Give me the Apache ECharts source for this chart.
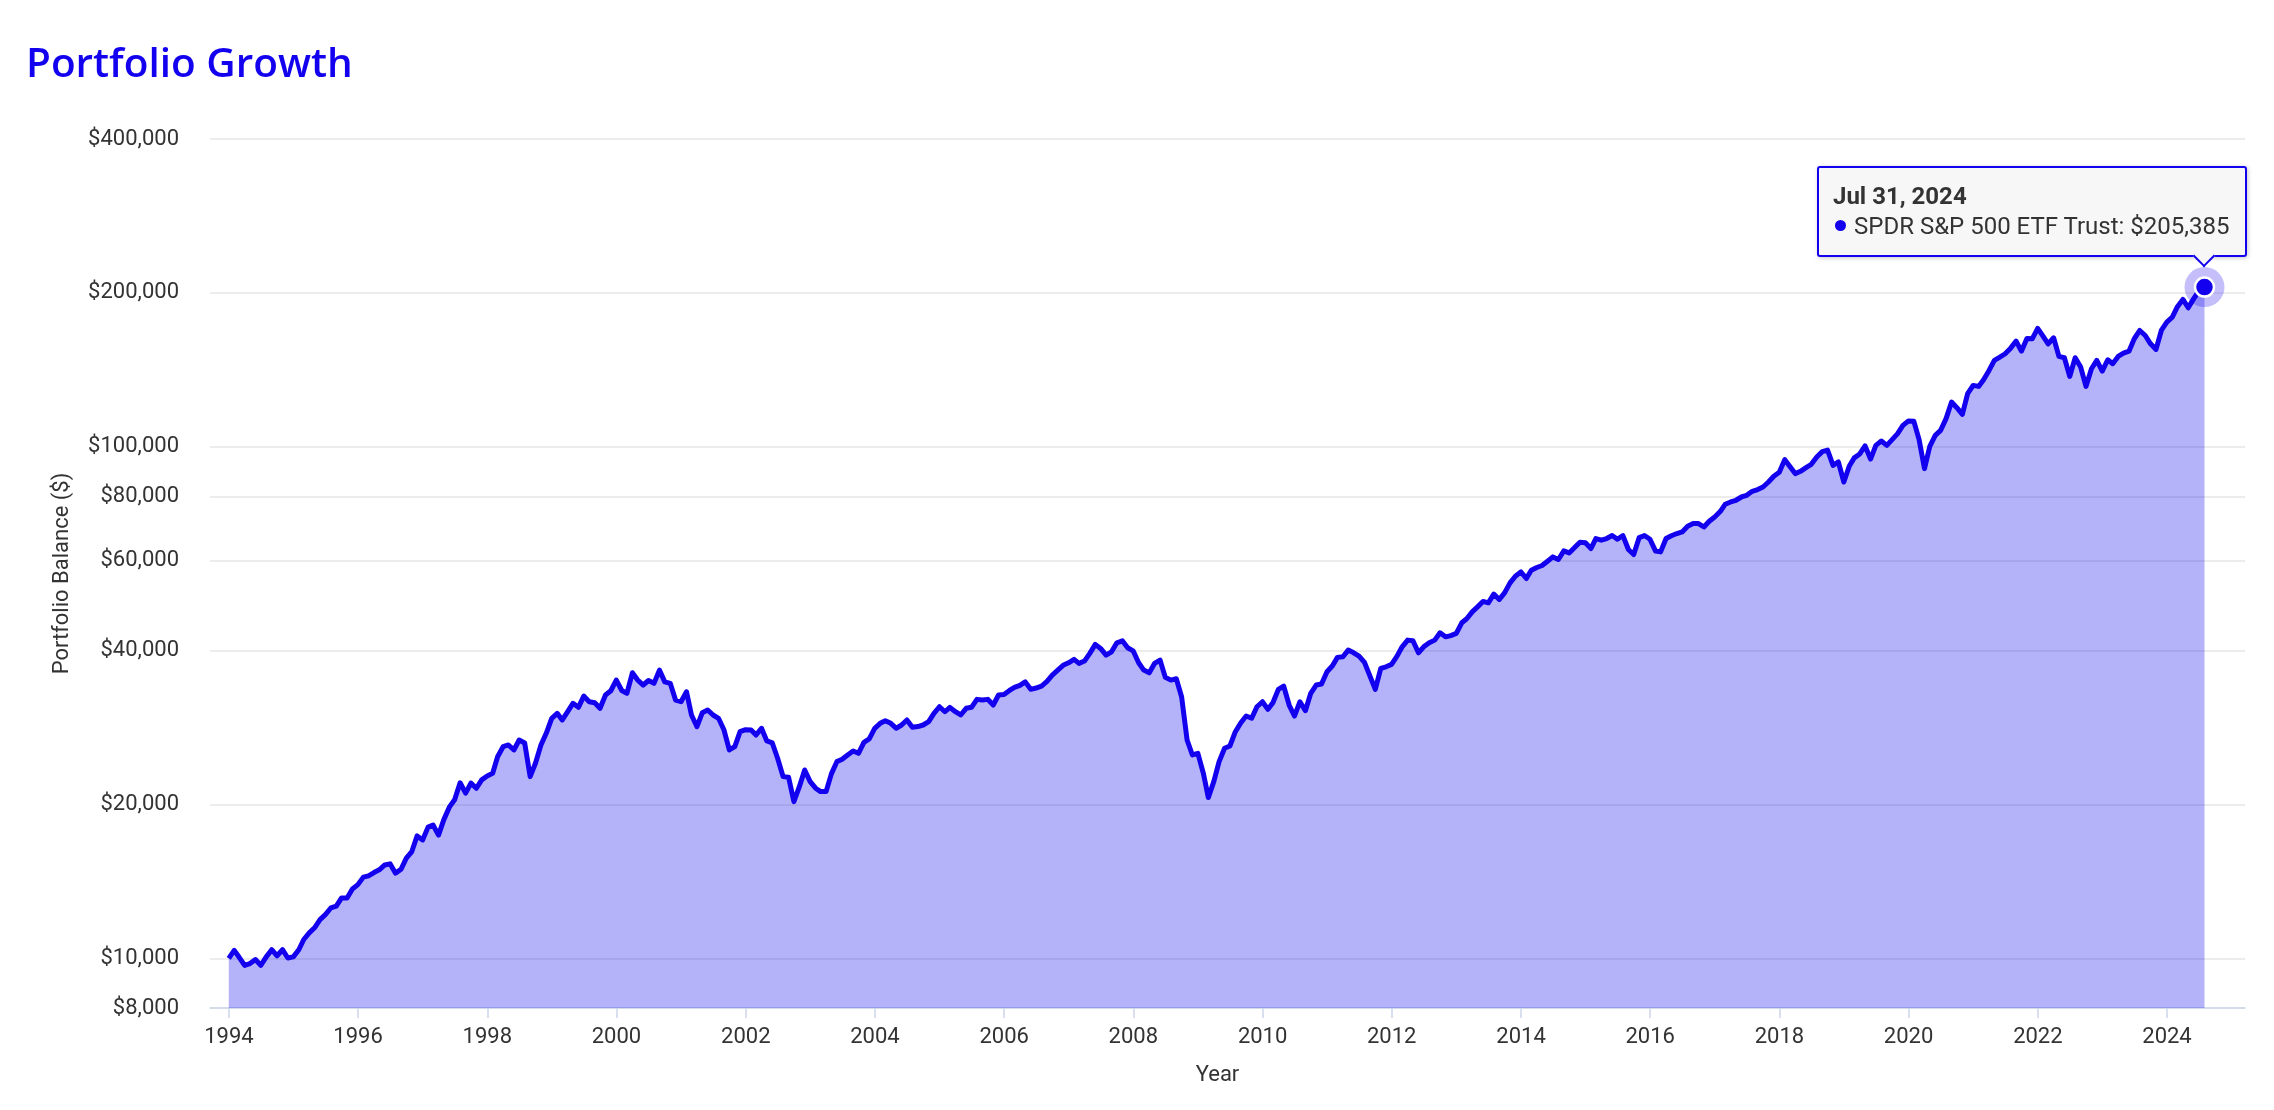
<!DOCTYPE html>
<html>
<head>
<meta charset="utf-8">
<script src="https://cdn.jsdelivr.net/npm/echarts@6/dist/echarts.min.js"></script>
<style>
html,body{margin:0;padding:0;background:#ffffff;overflow:hidden}
#chart{width:2274px;height:1110px}
</style>
</head>
<body>
<div id="chart"></div>
<script>
// ---------------- DATA (month-end portfolio balance, $) ----------------
const seriesName = 'SPDR S&P 500 ETF Trust';
const startValue = 10000; // Dec 31, 1993
const v1994 = [10370, 10050, 9690, 9770, 9950, 9690, 10070, 10400, 10120, 10400, 10020, 10070];
const v1995 = [10400, 10890, 11220, 11480, 11910, 12180, 12550, 12650, 13130, 13130, 13670, 13940];
const v1996 = [14420, 14500, 14720, 14900, 15230, 15310, 14680, 14940, 15710, 16180, 17360, 17050];
const v1997 = [18060, 18230, 17420, 18680, 19760, 20420, 22050, 21040, 22020, 21510, 22340, 22740];
const v1998 = [23010, 24800, 25940, 26140, 25560, 26730, 26380, 22670, 24080, 26140, 27550, 29480];
const v1999 = [30140, 29250, 30360, 31530, 30970, 32580, 31760, 31620, 30830, 32730, 33370, 35010];
const v2000 = [33410, 32980, 36180, 35010, 34240, 34940, 34500, 36620, 34730, 34500, 32000, 31760];
const v2001 = [33220, 29920, 28380, 30220, 30600, 29920, 29480, 27960, 25560, 25940, 27750, 28000];
const v2002 = [27960, 27340, 28180, 26620, 26380, 24620, 22670, 22600, 20260, 21670, 23360, 22170];
const v2003 = [21520, 21190, 21190, 22950, 24250, 24510, 24990, 25440, 25180, 26460, 26860, 28180];
const v2004 = [28820, 29160, 28820, 28180, 28600, 29250, 28310, 28400, 28600, 29030, 30140, 31050];
const v2005 = [30360, 30970, 30360, 29920, 30830, 30970, 32100, 32000, 32100, 31290, 32730, 32800];
const v2006 = [33410, 33880, 34190, 34730, 33580, 33780, 34080, 34810, 35810, 36620, 37410, 37850];
const v2007 = [38430, 37740, 38140, 39480, 41110, 40380, 39180, 39760, 41410, 41780, 40490, 39940];
const v2008 = [37850, 36620, 36180, 37740, 38310, 35440, 35010, 35220, 32480, 26730, 24990, 25180];
const v2009 = [23010, 20630, 22170, 24250, 25750, 26020, 27750, 28900, 29780, 29480, 31050, 31760];
const v2010 = [30690, 31620, 33580, 34080, 31290, 29780, 31760, 30500, 32980, 34240, 34390, 36350];
const v2011 = [37340, 38780, 38880, 40070, 39590, 38990, 37910, 35650, 33580, 36900, 37170, 37570];
const v2012 = [38990, 40670, 41910, 41780, 39590, 40670, 41410, 41910, 43310, 42540, 42780, 43190];
const v2013 = [45310, 46130, 47600, 48680, 49880, 49570, 51550, 50330, 51850, 54230, 55890, 56980];
const v2014 = [55310, 57420, 58120, 58640, 59790, 60960, 60250, 62620, 62060, 63590, 65120, 64940];
const v2015 = [63300, 66210, 65710, 66210, 67110, 65990, 67110, 63020, 61610, 66510, 67110, 66000];
const v2016 = [62620, 62340, 66210, 67050, 67720, 68210, 69980, 70830, 70830, 69740, 71570, 72970];
const v2017 = [74760, 77250, 78060, 78660, 79830, 80450, 81910, 82530, 83500, 85400, 87620, 89210];
const v2018 = [94450, 91640, 88690, 89610, 91110, 92480, 95570, 97920, 98620, 92060, 93460, 85400];
const v2019 = [91800, 95200, 96900, 100500, 94700, 100720, 102690, 100720, 103340, 106170, 110200, 112350];
const v2020 = [112210, 103490, 90700, 100300, 105370, 107760, 113580, 122380, 119330, 115800, 127090, 131930];
const v2021 = [131340, 135350, 141130, 147620, 149820, 152130, 156010, 161000, 153920, 163000, 162700, 170500];
const v2022 = [164500, 159000, 163460, 150300, 149400, 137360, 149400, 143250, 131340, 142200, 147620, 140680];
const v2023 = [148080, 145450, 150300, 152540, 153920, 162750, 168930, 165170, 159100, 155100, 168930, 175350];
const v2024 = [179340, 188000, 194300, 187100, 195000, 202000, 205385];

const yTickValues = [8000, 10000, 20000, 40000, 60000, 80000, 100000, 200000, 400000];
const xTickYears = [1994, 1996, 1998, 2000, 2002, 2004, 2006, 2008, 2010, 2012, 2014, 2016, 2018, 2020, 2022, 2024];

// ---------------- BUILD ----------------
const values = [startValue].concat(v1994, v1995, v1996, v1997, v1998, v1999, v2000, v2001,
  v2002, v2003, v2004, v2005, v2006, v2007, v2008, v2009, v2010, v2011, v2012, v2013,
  v2014, v2015, v2016, v2017, v2018, v2019, v2020, v2021, v2022, v2023, v2024);
// month-end dates starting Dec 31, 1993
const points = values.map((v, i) => [Date.UTC(1994, i, 0), v]);
const lastPoint = points[points.length - 1];

const BLUE = '#1200ee';
const MONTHS = ['Jan','Feb','Mar','Apr','May','Jun','Jul','Aug','Sep','Oct','Nov','Dec'];
function fmtDate(ts) {
  const d = new Date(ts);
  return MONTHS[d.getUTCMonth()] + ' ' + d.getUTCDate() + ', ' + d.getUTCFullYear();
}
function fmtMoney(v) { return '$' + Math.round(v).toLocaleString('en-US'); }

const chart = echarts.init(document.getElementById('chart'), null, {renderer: 'canvas'});

chart.setOption({
  animation: false,
  backgroundColor: '#ffffff',
  title: {
    text: 'Portfolio Growth',
    left: 21,
    top: 40,
    textStyle: {fontFamily: 'Open Sans', fontWeight: 600, fontSize: 40.5, color: BLUE}
  },
  grid: {left: 210, right: 29, top: 139, bottom: 102, containLabel: false, outerBoundsMode: 'none'},
  tooltip: {
    trigger: 'item',
    triggerOn: 'none',
    alwaysShowContent: true,
    transitionDuration: 0,
    backgroundColor: '#f7f7f7',
    borderColor: BLUE,
    borderWidth: 2,
    borderRadius: 3,
    padding: [14, 16, 14, 14],
    extraCssText: 'box-shadow:1px 1px 4px rgba(0,0,0,0.22);',
    formatter: function () {
      return '<div style="font-family:Roboto;font-weight:700;font-size:24px;line-height:29.5px;color:#333">' +
        fmtDate(lastPoint[0]) + '</div>' +
        '<div style="font-family:Roboto;font-size:24px;line-height:29.5px;color:#333">' +
        '<span style="display:inline-block;width:11px;height:11px;border-radius:50%;background:' + BLUE +
        ';margin:0 8px 0 2px;vertical-align:3px"></span>' + seriesName + ': ' + fmtMoney(lastPoint[1]) + '</div>' +
        '<div class="tt-arrow" style="position:absolute;bottom:-9px;left:0;width:14px;height:14px;background:#f7f7f7;' +
        'border-right:2px solid ' + BLUE + ';border-bottom:2px solid ' + BLUE + ';transform:rotate(45deg);"></div>';
    },
    position: function (point, params, dom, rect, size) {
      const w = size.contentSize[0], h = size.contentSize[1];
      const vw = size.viewSize[0];
      let left = point[0] - w / 2;
      if (left + w > vw - 27) left = vw - 27 - w;
      const top = point[1] - 30 - h;
      const arr = dom.querySelector('.tt-arrow');
      if (arr) arr.style.left = (point[0] - left - 10) + 'px';
      return [left, top];
    }
  },
  xAxis: {
    type: 'value',
    min: Date.UTC(1993, 8, 16),
    max: Date.UTC(2025, 2, 17),
    name: 'Year',
    nameLocation: 'middle',
    nameGap: 56,
    nameTextStyle: {fontFamily: 'Roboto', fontSize: 22, color: '#333', padding: [0, 20, 0, 0]},
    axisLine: {show: true, lineStyle: {color: '#ccd6eb', width: 1.5}},
    axisTick: {show: true, length: 10, lineStyle: {color: '#ccd6eb', width: 1.5},
      customValues: xTickYears.map(y => Date.UTC(y, 0, 1))},
    axisLabel: {
      customValues: xTickYears.map(y => Date.UTC(y, 0, 1)),
      formatter: v => String(new Date(v).getUTCFullYear()),
      fontFamily: 'Roboto', fontSize: 22, color: '#333', margin: 18, hideOverlap: false
    },
    splitLine: {show: false}
  },
  yAxis: {
    type: 'log',
    logBase: 10,
    min: 8000,
    max: 400000,
    name: 'Portfolio Balance ($)',
    nameLocation: 'middle',
    nameGap: 137,
    nameTextStyle: {fontFamily: 'Roboto', fontSize: 22, color: '#333'},
    axisLine: {show: false},
    axisTick: {show: false, customValues: yTickValues},
    axisLabel: {
      customValues: yTickValues,
      formatter: v => fmtMoney(v),
      fontFamily: 'Roboto', fontSize: 22, color: '#333', margin: 31
    },
    splitLine: {show: true, lineStyle: {color: '#e6e6e6', width: 1.5}}
  },
  series: [
    {
      name: seriesName,
      type: 'line',
      data: points,
      showSymbol: false,
      symbol: 'none',
      silent: true,
      lineStyle: {color: BLUE, width: 5, join: 'round'},
      areaStyle: {color: 'rgba(8,2,238,0.3)', opacity: 1},
      emphasis: {disabled: true},
      tooltip: {show: false},
      z: 2
    },
    {
      type: 'scatter',
      data: [lastPoint],
      symbolSize: 40,
      itemStyle: {color: 'rgba(18,0,238,0.25)', opacity: 1},
      silent: true,
      emphasis: {disabled: true},
      tooltip: {show: false},
      z: 3
    },
    {
      name: seriesName,
      type: 'scatter',
      data: [lastPoint],
      symbolSize: 19,
      itemStyle: {color: BLUE, borderColor: '#ffffff', borderWidth: 2.5, opacity: 1},
      emphasis: {disabled: true},
      z: 4
    }
  ]
});

chart.dispatchAction({type: 'showTip', seriesIndex: 2, dataIndex: 0});
setTimeout(() => chart.dispatchAction({type: 'showTip', seriesIndex: 2, dataIndex: 0}), 50);
</script>
</body>
</html>
